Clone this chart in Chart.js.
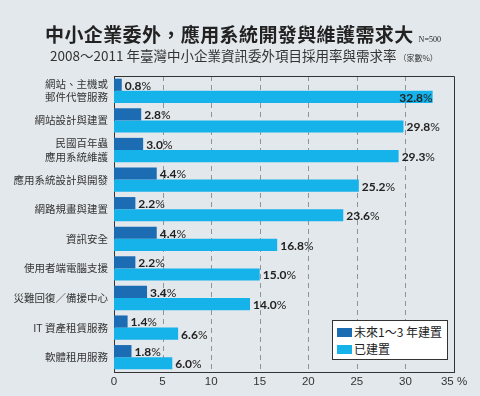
<!DOCTYPE html>
<html>
<head>
<meta charset="utf-8">
<script src="https://cdn.jsdelivr.net/npm/chart.js@4"></script>
<style>
html,body{margin:0;padding:0;background:#e3e8ec;}
#wrap{position:relative;width:480px;height:396px;overflow:hidden;background:#e3e8ec;}
#c{position:absolute;left:0;top:0;}
.t{position:absolute;white-space:nowrap;color:#222;font-family:"Noto Sans CJK TC","Noto Sans",sans-serif;}
#title{left:45px;top:21px;font-size:19px;font-weight:bold;letter-spacing:0.4px;line-height:26px;}
#title small{font-family:"Liberation Serif",serif;font-weight:normal;font-size:8px;margin-left:5px;letter-spacing:0;}
#sub{left:50px;top:46px;font-size:13.5px;color:#333;line-height:18px;letter-spacing:0px;}
#sub small{font-size:8px;margin-left:2px;}
#legend{position:absolute;left:332px;top:320px;width:116px;height:40px;background:#fff;border:1px solid #333;box-sizing:border-box;font-family:"Noto Sans CJK TC",sans-serif;font-size:12px;color:#222;}
.li{position:absolute;left:4px;height:15px;line-height:15px;}
.sw{display:inline-block;width:15px;height:9px;margin-right:2px;}
</style>
</head>
<body>
<div id="wrap">
<canvas id="c" width="480" height="396"></canvas>
<div class="t" id="title">中小企業委外，應用系統開發與維護需求大<small>N=500</small></div>
<div class="t" id="sub">2008～2011 年臺灣中小企業資訊委外項目採用率與需求率<small>（家數%）</small></div>
<div id="legend">
  <div class="li" style="top:3px"><span class="sw" id="sw0"></span><span id="lg0"></span></div>
  <div class="li" style="top:20px"><span class="sw" id="sw1"></span><span id="lg1"></span></div>
</div>
</div>
<script>
const categories = [
  ["網站、主機或","郵件代管服務"],
  "網站設計與建置",
  ["民國百年蟲","應用系統維護"],
  "應用系統設計與開發",
  "網路規畫與建置",
  "資訊安全",
  "使用者端電腦支援",
  "災難回復／備援中心",
  "IT 資產租賃服務",
  "軟體租用服務"
];
const seriesNames = ["未來1～3 年建置", "已建置"];
const futureValues = [0.8, 2.8, 3.0, 4.4, 2.2, 4.4, 2.2, 3.4, 1.4, 1.8];
const builtValues  = [32.8, 29.8, 29.3, 25.2, 23.6, 16.8, 15.0, 14.0, 6.6, 6.0];
const xTicks = [0, 5, 10, 15, 20, 25, 30, 35];
const xMax = 35;
const colors = ["#1b6cb2", "#16b2ea"];

document.getElementById('lg0').textContent = seriesNames[0];
document.getElementById('lg1').textContent = seriesNames[1];
document.getElementById('sw0').style.background = colors[0];
document.getElementById('sw1').style.background = colors[1];

const gridPlugin = {
  id: 'dashgrid',
  beforeDatasetsDraw(chart) {
    const a = chart.chartArea, ctx = chart.ctx, xs = chart.scales.x;
    ctx.save();
    ctx.strokeStyle = '#8f9499';
    ctx.lineWidth = 1;
    ctx.setLineDash([5, 4]);
    xTicks.forEach(v => {
      if (v <= 0 || v >= xMax) return;
      const x = Math.round(xs.getPixelForValue(v)) + 0.5;
      ctx.beginPath();
      ctx.moveTo(x, a.top);
      ctx.lineTo(x, a.bottom);
      ctx.stroke();
    });
    ctx.restore();
  }
};
const labelPlugin = {
  id: 'vlabels',
  afterDatasetsDraw(chart) {
    const ctx = chart.ctx;
    ctx.save();
    ctx.fillStyle = '#222';
    ctx.textBaseline = 'middle';
    chart.data.datasets.forEach((ds, di) => {
      const meta = chart.getDatasetMeta(di);
      meta.data.forEach((bar, i) => {
        const v = ds.data[i];
        const num = v.toFixed(1);
        ctx.font = 'bold 12px "Lato", "DejaVu Sans", sans-serif';
        const w1 = ctx.measureText(num).width;
        ctx.font = '12px "Lato", "DejaVu Sans", sans-serif';
        const w2 = ctx.measureText('%').width;
        let x;
        if (v > 31) { x = bar.x - w1 - w2; } else { x = bar.x + 3; }
        const y = bar.y + 1;
        ctx.textAlign = 'left';
        ctx.font = 'bold 12px "Lato", "DejaVu Sans", sans-serif';
        ctx.fillText(num, x, y);
        ctx.font = '12px "Lato", "DejaVu Sans", sans-serif';
        ctx.fillText('%', x + w1, y);
      });
    });
    ctx.restore();
  }
};
const framePlugin = {
  id: 'frame',
  afterDraw(chart) {
    const a = chart.chartArea, ctx = chart.ctx;
    ctx.save();
    ctx.strokeStyle = '#333';
    ctx.lineWidth = 1;
    ctx.beginPath();
    ctx.moveTo(a.left, a.top + 0.5);
    ctx.lineTo(a.right + 0.5, a.top + 0.5);
    ctx.lineTo(a.right + 0.5, a.bottom);
    ctx.stroke();
    ctx.restore();
  }
};

new Chart(document.getElementById('c'), {
  type: 'bar',
  data: {
    labels: categories,
    datasets: [
      { label: seriesNames[0], data: futureValues, backgroundColor: colors[0], categoryPercentage: 0.82, barPercentage: 1 },
      { label: seriesNames[1], data: builtValues, backgroundColor: colors[1], categoryPercentage: 0.82, barPercentage: 1 }
    ]
  },
  options: {
    indexAxis: 'y',
    responsive: false,
    animation: false,
    layout: { padding: { top: 76, right: 26, left: 0, bottom: 0 } },
    plugins: { legend: { display: false }, title: { display: false }, tooltip: { enabled: false } },
    scales: {
      x: {
        min: 0, max: xMax,
        afterBuildTicks(scale) { scale.ticks = xTicks.map(v => ({ value: v })); },
        afterFit(scale) { scale.height = 24; },
        ticks: {
          color: '#333', padding: 3,
          font: { family: '"Liberation Sans", Arial, sans-serif', size: 11.5 },
          callback: v => v === xMax ? v + ' %' : v
        },
        grid: { display: false, drawTicks: false },
        border: { display: true, color: '#333' }
      },
      y: {
        afterFit(scale) { scale.width = 114; },
        ticks: {
          color: '#333', padding: 6,
          font: { family: '"Noto Sans CJK TC", sans-serif', size: 10.5, lineHeight: 1.25 }
        },
        grid: { display: false, drawTicks: false },
        border: { display: true, color: '#333', width: 1 }
      }
    }
  },
  plugins: [gridPlugin, labelPlugin, framePlugin]
});
</script>
</body>
</html>
